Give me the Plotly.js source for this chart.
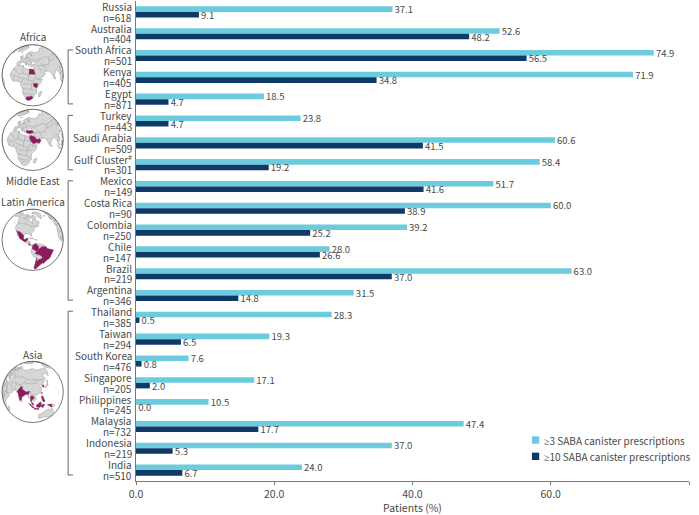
<!DOCTYPE html>
<html><head><meta charset="utf-8">
<script src="https://cdn.plot.ly/plotly-3.0.1.min.js"></script>
<style>html,body{margin:0;padding:0;background:#fff}</style></head>
<body><div id="chart" style="width:699px;height:515px"></div>
<script>
const countries=["Russia","Australia","South Africa","Kenya","Egypt","Turkey","Saudi Arabia","Gulf Cluster<sup>#</sup>","Mexico","Costa Rica","Colombia","Chile","Brazil","Argentina","Thailand","Taiwan","South Korea","Singapore","Philippines","Malaysia","Indonesia","India"];
const sampleSizes=[618,404,501,405,871,443,509,301,149,90,250,147,219,346,385,294,476,205,245,732,219,510];
const atLeast3=[37.1,52.6,74.9,71.9,18.5,23.8,60.6,58.4,51.7,60.0,39.2,28.0,63.0,31.5,28.3,19.3,7.6,17.1,10.5,47.4,37.0,24.0];
const atLeast10=[9.1,48.2,56.5,34.8,4.7,4.7,41.5,19.2,41.6,38.9,25.2,26.6,37.0,14.8,0.5,6.5,0.8,2.0,0.0,17.7,5.3,6.7];
const seriesNames=["≥3 SABA canister prescriptions","≥10 SABA canister prescriptions"];
const regionLabels=[["Africa",37],["Middle East",181],["Latin America",202],["Asia",355]];
const brackets=[[50,104],[115.5,170],[181,300.5],[311.5,475.5]];

// rough outlines (lon, lat) for the small locator globes
const landPolys=[
[[-6,35.8],[10,37],[11,33.5],[20,31],[32,31],[34,28],[37,21],[39,15],[43,12],[51,12],[47,4],[40,-3],[39,-10],[40,-16],[35,-20],[35,-24],[32,-29],[26,-34],[20,-35],[18,-33],[15,-25],[12,-17],[13,-8],[9,-1],[9,4],[4,6],[-4,5],[-8,4.5],[-13,9],[-17,14],[-16,20],[-13,27],[-9,32]],
[[-9,37],[-9,43],[-1,44],[-4,48],[3,51],[8,54],[8,57],[11,54],[20,55],[24,59],[30,60],[23,60],[21,64],[24,66],[18,62],[17,57],[13,55],[11,59],[5,59],[6,62],[14,68],[25,71],[40,67],[44,68],[68,69],[73,72],[90,75],[105,77],[113,74],[130,71],[160,70],[180,68],[180,65],[170,60],[163,56],[156,51],[156,58],[142,59],[135,54],[141,50],[130,42],[127,39],[129,35],[126,34],[125,39],[121,40],[118,38],[122,36],[122,30],[119,25],[110,21],[106,19],[109,13],[105,9],[100,13],[100,8],[104,1.5],[101,3],[98,9],[97,16],[94,16],[92,21],[88,22],[80,15],[80,10],[77,8],[73,18],[72,21],[67,25],[58,25],[56,27],[50,30],[51,25],[56,25],[59,22],[55,17],[45,13],[43,13],[39,21],[35,28],[35,36],[28,36.5],[26,39],[29,41],[41,41.5],[38,46],[31,46],[28,41.5],[24,40],[23,37],[20,40],[13,45.5],[18,40],[16,38],[12,42],[8,44],[3,43],[0,39],[-2,37],[-6,36]],
[[-5,50],[1,51],[0,54],[-3,58],[-6,57],[-3,53]],[[-10,52],[-6,52],[-6,55],[-9,54]],[[-24,65],[-14,65],[-18,63]],
[[130,32],[136,34],[141,36],[141,41],[145,44],[141,45],[139,38],[132,35]],[[44,-16],[49,-12],[50,-16],[47,-25],[44,-25]],[[80,9],[82,7],[80,6]],
[[120,23],[122,25],[121,22]],[[120,18],[122,18],[124,12],[126,7],[122,7],[120,14]],[[109,1],[117,7],[119,1],[116,-4],[110,-3]],[[95,5],[104,-3],[106,-6],[101,-3]],[[105,-7],[114,-8],[114,-7],[106,-6]],[[120,1],[125,1],[122,-5],[119,-4]],[[131,-1],[141,-3],[147,-6],[150,-10],[141,-9],[138,-7]],
[[114,-22],[122,-18],[130,-12],[136,-12],[136,-15],[140,-17],[142,-11],[146,-19],[153,-26],[150,-37],[144,-38],[138,-35],[131,-32],[124,-33],[115,-34]],
[[-168,66],[-156,71],[-140,70],[-125,70],[-110,68],[-95,68],[-94,72],[-85,69],[-82,67],[-94,60],[-92,57],[-82,55],[-79,51],[-78,58],[-78,62],[-70,61],[-65,59],[-56,52],[-66,50],[-60,46],[-70,43],[-74,40],[-76,35],[-81,31],[-80,25],[-83,29],[-90,30],[-97,28],[-97,22],[-95,18],[-90,21],[-87,21],[-88,16],[-83,15],[-83,10],[-78,9],[-80,7],[-85,10],[-92,14],[-97,16],[-105,20],[-110,27],[-113,31],[-110,23],[-115,30],[-120,34],[-124,40],[-124,48],[-130,55],[-140,60],[-150,60],[-160,58],[-165,55],[-158,58],[-165,62]],
[[-80,73],[-70,70],[-62,66],[-68,62],[-78,65]],[[-118,72],[-105,73],[-102,69],[-115,69]],[[-90,77],[-75,83],[-62,82],[-78,76]],[[-73,78],[-60,82],[-30,83],[-20,76],[-25,70],[-43,60],[-52,65],[-55,72]],[[-84,22],[-75,20],[-78,22]],[[-74,19],[-69,19],[-70,18]],
[[-78,9],[-72,12],[-62,10],[-52,5],[-50,0],[-35,-6],[-39,-14],[-41,-22],[-48,-26],[-53,-34],[-58,-35],[-62,-39],[-65,-45],[-68,-52],[-72,-53],[-74,-45],[-72,-30],[-70,-18],[-76,-14],[-81,-5],[-80,1],[-77,4]]
];
const borderLines=[
[[10,37],[9,30],[12,23],[24,20],[24,10],[34,9],[36,15],[43,12]],[[-13,27],[-8,27],[4,19],[12,23]],[[25,31],[25,20]],[[37,22],[25,22]],[[-16,16],[-5,15],[4,15],[14,13],[24,12]],[[3,6],[3,12]],[[9,4],[14,12]],[[14,2],[30,4],[34,4],[41,4]],[[12,-6],[30,-8],[40,-11]],[[12,-17],[24,-18],[35,-17]],[[17,-29],[20,-25],[29,-22]],[[30,4],[30,-8]],[[34,9],[34,-1]],[[-8,4.5],[-8,12],[-5,15]],
[[3,43],[8,49],[14,54]],[[14,54],[24,50],[30,52],[40,50],[48,46]],[[24,66],[30,60]],[[14,46],[22,48],[30,46]],[[48,46],[50,52],[60,51],[72,54],[85,50],[98,50],[116,50],[130,48],[134,48]],[[52,42],[60,38],[70,37],[75,39],[80,43],[85,50]],[[44,38],[46,30]],[[61,36],[62,25]],[[70,37],[74,34]],[[80,43],[97,42],[112,44],[116,50]],[[96,28],[100,22],[106,22]],[[100,20],[108,15]],[[39,32],[35,32]],[[44,38],[61,36]],
[[-141,70],[-141,60]],[[-124,48],[-95,49],[-83,45],[-75,45],[-67,47]],[[-117,32.5],[-106,31.5],[-97,26]],[[-92,14.5],[-88,18]],[[-88,13],[-84,15]],
[[-78,60],[-95,68]],[[-110,60],[-110,68]],[[-120,60],[-95,60]],[[-67,6],[-60,5]],[[-70,-4],[-75,0]],[[-70,-18],[-66,-22]],[[-60,-14],[-70,-11]],[[-58,-20],[-66,-22]]
];
const magentaByGlobe={
 africa:[[[17,-29],[20,-28],[20,-25],[25,-25.5],[29,-22.5],[32,-25],[32,-29],[26,-34],[20,-35],[18,-33]],[[34,4],[41,4],[41,-2],[39,-4.5],[34,-1]],[[25,31.5],[34,31],[37,22],[25,22]]],
 mideast:[[[26,40],[29,41],[41,41.5],[44,38],[36,36],[28,36.5]],[[35,29],[39,32],[47,29],[50,25],[55,22],[52,19],[44,17],[43,17],[39,21]],[[52,24],[56,26],[59,22],[55,17],[52,19]]],
 latin:[[[-117,32.5],[-106,31.5],[-97,26],[-97,22],[-95,18],[-90,21],[-87,21],[-89,18],[-92,14.5],[-97,16],[-105,20],[-110,27],[-113,31]],[[-86,11],[-83,11],[-83,8],[-85,9.5]],[[-60,5],[-52,4],[-50,0],[-35,-6],[-39,-14],[-41,-22],[-48,-26],[-53,-34],[-57,-30],[-54,-26],[-58,-20],[-60,-14],[-66,-10],[-74,-8],[-70,-4],[-66,1]],[[-78,8],[-72,12],[-67,6],[-67,1],[-70,-4],[-75,0],[-79,2]],[[-66,-22],[-58,-20],[-54,-26],[-58,-34],[-62,-39],[-65,-45],[-68,-52],[-72,-50],[-70,-35],[-69,-27]],[[-70,-18],[-69,-27],[-70,-35],[-72,-50],[-68,-54],[-74,-50],[-72,-30]]],
 asia:[[[68,23],[74,34],[78,35],[79,30],[88,26],[96,28],[93,22],[88,22],[80,15],[80,10],[77,8],[73,18],[72,21]],[[98,10],[98,18],[100,20],[105,17],[102,12],[100,13],[100,8],[102,6]],[[100,6],[103,5],[104,1.5],[101,3]],[[110,1],[117,7],[119,4],[115,2]],[[95,5],[104,-3],[106,-6],[101,-3]],[[105,-7],[114,-8],[114,-7],[106,-6]],[[109,1],[115,2],[119,1],[116,-4],[110,-3]],[[120,1],[125,1],[122,-5],[119,-4]],[[131,-1],[141,-3],[141,-9],[138,-7]],[[120,18],[122,18],[124,12],[126,7],[122,7],[120,14]],[[120,23],[122,25],[121,22]],[[126,38],[129,38],[129,35],[126,34]]]
};

const L=135.5,R=689.3,T=1,B=481.5,W=699,H=515;
const px=x=>(x-L)/(R-L), py=y=>1-(y-T)/(B-T);
const LIGHT="#6ccbdc",DARK="#0f3a68",TXT="#4a4a4a",AX="#777",FONT='"Noto Sans CJK SC","Noto Sans",sans-serif';
const rad=Math.PI/180;

function globe(cx,cy,r,lon0,lat0,mags){
  const proj=([lo,la])=>{
    const f=la*rad,d=(lo-lon0)*rad,f0=lat0*rad;
    let x=Math.cos(f)*Math.sin(d),y=Math.cos(f0)*Math.sin(f)-Math.sin(f0)*Math.cos(f)*Math.cos(d);
    const c=Math.sin(f0)*Math.sin(f)+Math.cos(f0)*Math.cos(f)*Math.cos(d);
    if(c<0){const n=Math.hypot(x,y)||1;x/=n;y/=n;}
    return (cx+r*x).toFixed(1)+","+(cy-r*y).toFixed(1);
  };
  const d=(pts,close)=>"M"+pts.map(proj).join("L")+(close?"Z":"");
  const front=([lo,la])=>Math.sin(lat0*rad)*Math.sin(la*rad)+Math.cos(lat0*rad)*Math.cos(la*rad)*Math.cos((lo-lon0)*rad)>0;
  let b=landPolys.filter(p=>p.some(front)).map(p=>`<path d="${d(p,true)}" fill="#d6d6d6" stroke="#808080" stroke-width="1.1"/>`).join("");
  b+=borderLines.filter(p=>p.every(front)).map(p=>`<path d="${d(p,false)}" fill="none" stroke="#868686" stroke-width="1"/>`).join("");
  b+=mags.map(p=>`<path d="${d(p,true)}" fill="#8e1a5e" stroke="#8e1a5e" stroke-width="1.2"/>`).join("");
  const s=`<svg xmlns="http://www.w3.org/2000/svg" width="210" height="210" viewBox="0 0 210 210"><defs><clipPath id="c"><circle cx="${cx}" cy="${cy}" r="${r}"/></clipPath></defs><circle cx="${cx}" cy="${cy}" r="${r}" fill="#fff"/><g clip-path="url(#c)" stroke-linejoin="round">${b}</g><circle cx="${cx}" cy="${cy}" r="${r}" fill="none" stroke="#555" stroke-width="2.4"/></svg>`;
  return "data:image/svg+xml;base64,"+btoa(s);
}
const globes=[
 [globe(96,106,92,32,20,magentaByGlobe.africa),0,40],
 [globe(96,105,92,42,24,magentaByGlobe.mideast),0,105],
 [globe(96,105,92,-78,19,magentaByGlobe.latin),0,205],
 [globe(96,97,92,102,27,magentaByGlobe.asia),0,360]];
const images=globes.map(([src,x,y])=>({source:src,xref:"paper",yref:"paper",x:px(x),y:py(y),sizex:70/(R-L),sizey:70/(B-T),sizing:"stretch",xanchor:"left",yanchor:"top",layer:"above"}));

const annotations=[];
const note=(o)=>annotations.push(Object.assign({showarrow:false,font:{family:FONT,size:10,color:TXT},borderpad:0},o));
countries.forEach((c,i)=>{
  note({text:c,xref:"paper",yref:"y",x:0,y:i,xanchor:"right",yanchor:"middle",xshift:-3.5,yshift:5.6});
  note({text:"n="+sampleSizes[i],xref:"paper",yref:"y",x:0,y:i,xanchor:"right",yanchor:"middle",xshift:-3.5,yshift:-5.2});
});
regionLabels.forEach(([t,y])=>note({text:t,xref:"paper",yref:"paper",x:px(32),y:py(y),xanchor:"center",yanchor:"middle"}));
seriesNames.forEach((t,i)=>note({text:'<span style="font-family:\'Noto Sans\'">≥</span>'+t.slice(1),xref:"paper",yref:"paper",x:px(543),y:py(440.5+16.3*i),xanchor:"left",yanchor:"middle"}));

const shapes=[];
brackets.forEach(([a,b])=>shapes.push({type:"path",xref:"paper",yref:"paper",
  path:`M${px(72.5)},${py(a)}L${px(67.5)},${py(a)}L${px(67.5)},${py(b)}L${px(72.5)},${py(b)}`,line:{color:"#666",width:1}}));
[LIGHT,DARK].forEach((c,i)=>shapes.push({type:"rect",xref:"paper",yref:"paper",x0:px(532),x1:px(539.3),y0:py(436.8+16.3*i),y1:py(444.2+16.3*i),fillcolor:c,line:{width:0}}));

const mk=(name,vals,color)=>({type:"bar",orientation:"h",name,x:vals,y:countries.map((c,i)=>i),marker:{color},
  text:vals.map(v=>"\u00A0"+v.toFixed(1)),textposition:"outside",cliponaxis:false,constraintext:"none",
  textfont:{family:FONT,size:9.5,color:TXT}});

Plotly.newPlot("chart",[mk(seriesNames[0],atLeast3,LIGHT),mk(seriesNames[1],atLeast10,DARK)],{
  width:W,height:H,autosize:false,showlegend:false,barmode:"group",bargap:0.49,bargroupgap:0,
  paper_bgcolor:"#fff",plot_bgcolor:"#fff",
  margin:{l:L,r:W-R,t:T,b:H-B,pad:0},
  font:{family:FONT,size:10.5,color:TXT},
  xaxis:{range:[0,80],tickvals:[0,20,40,60,80],tickformat:".1f",ticks:"outside",ticklen:3,tickwidth:1,tickcolor:AX,
    showline:true,linecolor:AX,linewidth:1.2,showgrid:false,zeroline:false,
    tickfont:{family:FONT,size:10.5,color:TXT},title:{text:"Patients (%)",standoff:3,font:{family:FONT,size:10.5,color:TXT}}},
  yaxis:{range:[21.5,-0.5],tickmode:"array",tickvals:[],showticklabels:false,ticks:"",showline:true,linecolor:AX,linewidth:1.2,showgrid:false,zeroline:false},
  annotations,shapes,images
},{displayModeBar:false,staticPlot:true});
</script></body></html>
